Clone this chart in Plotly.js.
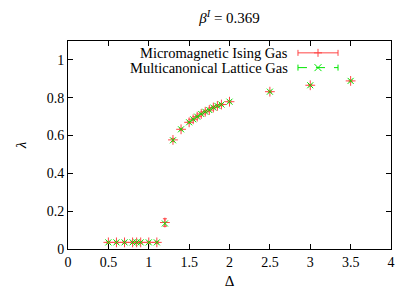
<!DOCTYPE html>
<html><head><meta charset="utf-8">
<script src="https://cdn.plot.ly/plotly-3.0.1.min.js"></script>
<style>html,body{margin:0;padding:0;background:#fff}#c{width:415px;height:293px}</style>
</head><body><div id="c"></div>
<script>
const delta = [0.5,0.6,0.7,0.8,0.85,0.9,1.0,1.1,1.2,1.3,1.4,1.5,1.55,1.6,1.65,1.7,1.75,1.8,1.85,1.9,2.0,2.5,3.0,3.5];
const lambdaIsing = [0.035,0.035,0.035,0.035,0.035,0.035,0.035,0.035,0.14,0.577,0.633,0.670,0.686,0.700,0.714,0.726,0.735,0.748,0.757,0.764,0.779,0.832,0.866,0.889];
const errIsing = [0.005,0.005,0.005,0.005,0.005,0.005,0.005,0.005,0.02,0.008,0.005,0.005,0.005,0.005,0.005,0.005,0.005,0.005,0.005,0.005,0.005,0.004,0.004,0.004];
const lambdaLattice = [0.035,0.035,0.035,0.035,0.035,0.035,0.035,0.035,0.135,0.575,0.633,0.670,0.686,0.700,0.714,0.726,0.735,0.748,0.757,0.764,0.779,0.832,0.866,0.889];
const xTicks = [0,0.5,1,1.5,2,2.5,3,3.5,4];
const yTicks = [0,0.2,0.4,0.6,0.8,1];
const seriesNames = ['Micromagnetic Ising Gas','Multicanonical Lattice Gas'];

const red = 'rgb(255,70,70)';
const green = 'rgb(0,230,0)';
const serif = 'Liberation Serif';

const traces = [
  {x: delta, y: lambdaIsing, type:'scatter', mode:'markers', name: seriesNames[0],
   marker:{symbol:'cross-thin', size:7, line:{color:red, width:1}},
   error_y:{type:'data', array: errIsing, visible:true, color:red, thickness:1, width:2},
   showlegend:false},
  {x: delta, y: lambdaLattice, type:'scatter', mode:'markers', name: seriesNames[1],
   marker:{symbol:'x-thin', size:6, line:{color:green, width:1}},
   showlegend:false}
];

const lx0 = 0.712, lx1 = 0.836, lxm = 0.774;
const ly = [0.943, 0.872];
const px = 1/323, py = 1/208;
const shapes = [];
function seg(x0,y0,x1,y1,color,dash){shapes.push({type:'line',xref:'paper',yref:'paper',x0,y0,x1,y1,line:{color,width:1,dash:dash||'solid'}});}
seg(lx0,ly[0],lx1,ly[0],red);
seg(lx0,ly[0]-3*py,lx0,ly[0]+3*py,red);
seg(lx1,ly[0]-3*py,lx1,ly[0]+3*py,red);
seg(lxm-4*px,ly[0],lxm+4*px,ly[0],red);
seg(lxm,ly[0]-4*py,lxm,ly[0]+4*py,red);
seg(lx0,ly[1],lx1,ly[1],green,'dash');
seg(lx0,ly[1]-3*py,lx0,ly[1]+3*py,green);
seg(lx1,ly[1]-3*py,lx1,ly[1]+3*py,green);
seg(lxm-3.5*px,ly[1]-3.5*py,lxm+3.5*px,ly[1]+3.5*py,green);
seg(lxm-3.5*px,ly[1]+3.5*py,lxm+3.5*px,ly[1]-3.5*py,green);

const annotations = seriesNames.map((t,i)=>({text:t, xref:'paper', yref:'paper', x:0.687, y:ly[i], xanchor:'right', yanchor:'middle', showarrow:false, font:{family:serif, size:14.5, color:'#000'}}));

const layout = {
  width:415, height:293,
  margin:{l:68, r:24, t:41, b:44},
  paper_bgcolor:'#fff', plot_bgcolor:'#fff',
  font:{family:serif, size:14, color:'#000'},
  title:{text:'<i>β</i><sup><i>I</i></sup> = 0.369', x:0.553, xanchor:'center', y:0.94, yanchor:'middle', font:{family:serif, size:15, color:'#000'}},
  xaxis:{range:[0,4], tickvals:xTicks, ticktext:xTicks.map(String), ticks:'inside', ticklen:5, tickcolor:'#000', mirror:'ticks', showline:true, linecolor:'#000', linewidth:1, showgrid:false, zeroline:false,
         title:{text:'Δ', font:{family:serif, size:15}, standoff:6}, tickfont:{family:serif, size:14}},
  yaxis:{range:[0,1.1], tickvals:yTicks, ticktext:yTicks.map(String), ticks:'inside', ticklen:5, tickcolor:'#000', mirror:'ticks', showline:true, linecolor:'#000', linewidth:1, showgrid:false, zeroline:false,
         title:{text:'<i>λ</i>', font:{family:serif, size:15}, standoff:16}, tickfont:{family:serif, size:14}},
  shapes, annotations
};
Plotly.newPlot('c', traces, layout, {staticPlot:true, displayModeBar:false});
</script></body></html>
